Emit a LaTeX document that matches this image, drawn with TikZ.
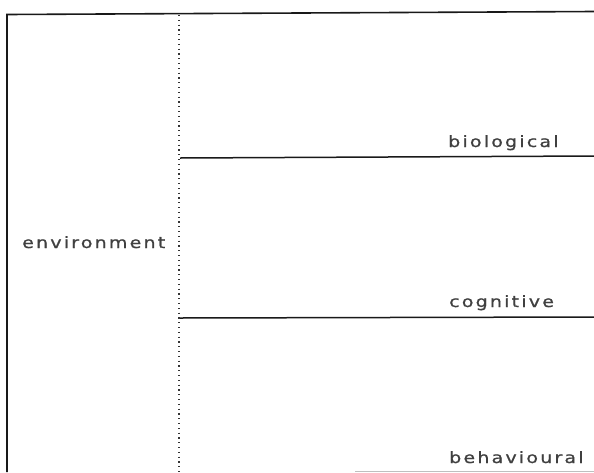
\documentclass[tikz,border=0pt]{standalone}
\usepackage{fontspec}
\setmainfont{DejaVu Sans}[LetterSpace=14,FakeStretch=1.22,FakeBold=0.8]
\begin{document}
\begin{tikzpicture}[x=1pt,y=-1pt,
  frame/.style={line width=1.6pt,black!90},
  divider/.style={line width=1.5pt,black!90},
  sep/.style={line width=1.2pt,black!80,dash pattern=on 1.2pt off 3.6pt},
  lbl/.style={inner sep=0pt,text=black!75,font=\fontsize{15.6}{18}\selectfont}]
\useasboundingbox[fill=white] (0,0) rectangle (594,472);
% outer frame
\coordinate (tl) at (7,14.5);
\coordinate (tr) at (594,11.5);
\coordinate (bl) at (7,472);
\draw[frame] (bl) -- (tl) -- (tr);
\draw[line width=1pt,black!25] (355,471.5) -- (594,471.5);
% dotted separator
\coordinate (st) at (179,15);
\coordinate (sb) at (179,472);
\draw[sep] (st) -- (sb);
% level dividers
\coordinate (d1a) at (180,158);
\coordinate (d1b) at (594,156);
\coordinate (d2a) at (180,318);
\coordinate (d2b) at (594,317);
\draw[divider] (d1a) -- (d1b);
\draw[divider] (d2a) -- (d2b);
% labels
\node[lbl,anchor=base west] (env) at (22,248) {environment};
\node[lbl,anchor=base west] (bio) at (448,147) {biological};
\node[lbl,anchor=base west] (cog) at (449,307) {cognitive};
\node[lbl,anchor=base west] (beh) at (449,463) {behavioural};
\end{tikzpicture}
\end{document}
